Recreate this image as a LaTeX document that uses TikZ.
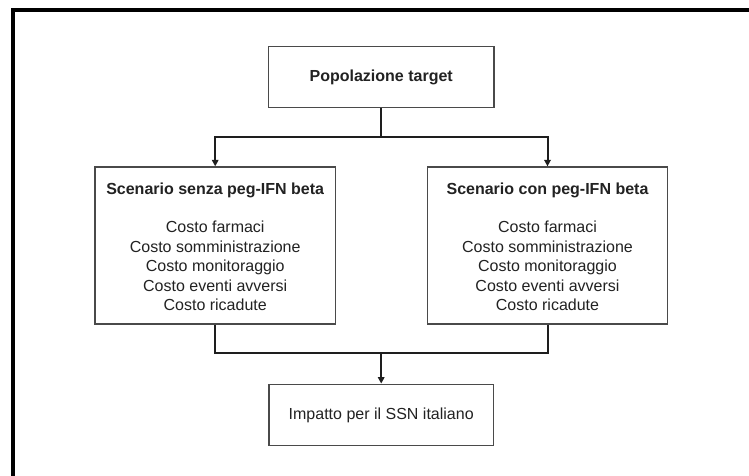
\documentclass[tikz,border=0pt]{standalone}
\usepackage{fontspec}
\setmainfont{Liberation Sans}
\usetikzlibrary{arrows.meta}
\definecolor{txt}{HTML}{222222}
\definecolor{boxline}{HTML}{4A4A4A}
\definecolor{conn}{HTML}{1E1E1E}
\tikzset{
  x=1pt, y=-1pt,
  box/.style={draw=boxline, line width=1.3pt, fill=white, inner sep=0pt, text=txt},
  conline/.style={draw=conn, line width=2pt},
  arr/.style={conline, -{Triangle[length=6.5pt,width=6.5pt]}},
  lbl/.style={text=txt, inner sep=0pt, font=\fontsize{16}{19.5}\selectfont},
  ttl/.style={lbl, font=\fontsize{16}{19.5}\selectfont\bfseries},
}
\begin{document}
\begin{tikzpicture}
\useasboundingbox (0,0) rectangle (749,475);
\clip (0,0) rectangle (749,475);
% outer frame
\draw[line width=3.5pt, black] (13,500) -- (13,10) -- (770,10);
% boxes
\node[box, minimum width=225.5pt, minimum height=60.5pt, font=\fontsize{16}{19.5}\selectfont\bfseries] (top) at (381.2,77) {Popolazione target};
\node[box, minimum width=240.5pt, minimum height=157pt] (left) at (215.2,245.5) {};
\node[box, minimum width=240.5pt, minimum height=157pt] (right) at (547.5,245.5) {};
\node[box, minimum width=224.5pt, minimum height=61.5pt, font=\fontsize{16}{19.5}\selectfont] (bottom) at (381.2,415) {Impatto per il SSN italiano};
% texts inside scenario boxes
\node[ttl] (lt) at (215.2,190) {Scenario senza peg-IFN beta};
\node[ttl] (rt) at (547.5,190) {Scenario con peg-IFN beta};
\node[lbl, align=center] (li) at (215.2,266.2) {Costo farmaci\\Costo somministrazione\\Costo monitoraggio\\Costo eventi avversi\\Costo ricadute};
\node[lbl, align=center] (ri) at (547.5,266.2) {Costo farmaci\\Costo somministrazione\\Costo monitoraggio\\Costo eventi avversi\\Costo ricadute};
% junctions
\coordinate (split) at (381.2,136.7);
\coordinate (merge) at (381.2,353.3);
% connectors
\draw[conline] (top.south) -- (split);
\draw[arr] (split) -| (left.north);
\draw[arr] (split) -| (right.north);
\draw[conline] (left.south) |- (merge);
\draw[conline] (right.south) |- (merge);
\draw[arr] (merge) -- (bottom.north);
\end{tikzpicture}
\end{document}
